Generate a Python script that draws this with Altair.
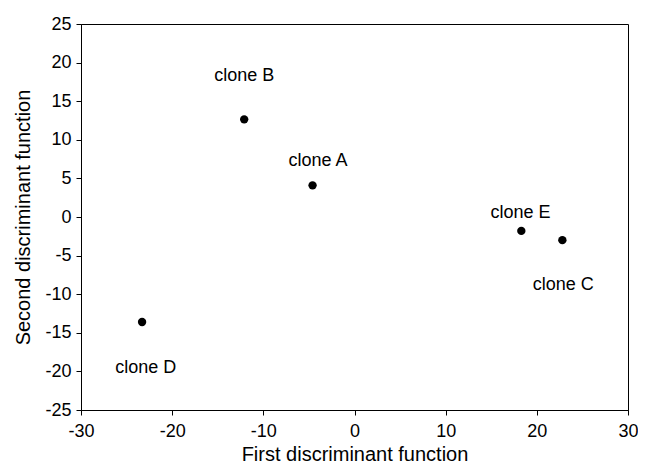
import altair as alt
import pandas as pd

clones = ["clone A", "clone B", "clone C", "clone D", "clone E"]
first_fn = [-4.6, -12.1, 22.8, -23.3, 18.3]
second_fn = [4.1, 12.65, -3.0, -13.6, -1.8]
label_x = [-4.0, -12.1, 22.9, -22.9, 18.2]
label_y = [7.3, 18.3, -8.8, -19.5, 0.5]

x_ticks = [-30, -20, -10, 0, 10, 20, 30]
y_ticks = [-25, -20, -15, -10, -5, 0, 5, 10, 15, 20, 25]

df = pd.DataFrame({
    "clone": clones,
    "x": first_fn,
    "y": second_fn,
    "lx": label_x,
    "ly": label_y,
})

FONT = "Liberation Sans"

xscale = alt.Scale(domain=[-30, 30], nice=False, zero=False)
yscale = alt.Scale(domain=[-25, 25], nice=False, zero=False)

xaxis = alt.Axis(values=x_ticks, titlePadding=4, labelPadding=7,
                 labelFlush=False, labelOverlap=False,
                 labelExpr="toString(datum.value)")
yaxis = alt.Axis(values=y_ticks, titlePadding=11, labelPadding=5,
                 labelFlush=False, labelOverlap=False,
                 labelExpr="toString(datum.value)")

XT = "First discriminant function"
YT = "Second discriminant function"

points = alt.Chart(df).mark_circle(size=70, color="black", opacity=1).encode(
    x=alt.X("x:Q", scale=xscale, title=XT, axis=xaxis),
    y=alt.Y("y:Q", scale=yscale, title=YT, axis=yaxis),
)

labels = alt.Chart(df).mark_text(
    font=FONT, fontSize=18, color="black", align="center", baseline="middle"
).encode(
    x=alt.X("lx:Q", scale=xscale, title=XT, axis=xaxis),
    y=alt.Y("ly:Q", scale=yscale, title=YT, axis=yaxis),
    text="clone:N",
)

chart = alt.layer(points, labels).properties(
    width=547,
    height=386,
    autosize=alt.AutoSizeParams(type="none"),
    padding={"left": 73, "top": 16, "right": 10, "bottom": 54},
).configure_view(
    stroke="black", strokeWidth=1
).configure_axis(
    grid=False,
    domainColor="black",
    tickColor="black",
    tickSize=5,
    labelFont=FONT,
    titleFont=FONT,
    labelFontSize=18,
    titleFontSize=20,
    titleFontWeight="normal",
    labelColor="black",
    titleColor="black",
)

chart.save("out.html", embed_options={"renderer": "svg", "actions": False})
